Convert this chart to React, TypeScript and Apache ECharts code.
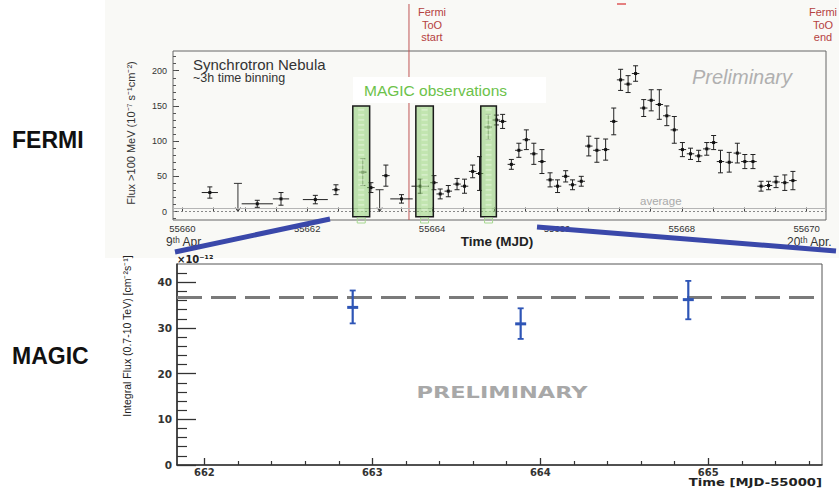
import React, { useEffect, useRef } from "react";
import * as echarts from "echarts";

// ---------- FERMI light curve (MJD, flux 1e-7 s^-1 cm^-2) ----------
const fermiMjd = [
  55660.44, 55661.2, 55661.58, 55662.13, 55662.46, 55662.89, 55663.02, 55663.26, 55663.51, 55663.81,
  55664.03, 55664.13, 55664.26, 55664.4, 55664.52, 55664.65, 55664.76, 55664.9, 55665.03, 55665.13,
  55665.27, 55665.39, 55665.51, 55665.63, 55665.76, 55665.89, 55666.01, 55666.14, 55666.25, 55666.39,
  55666.51, 55666.64, 55666.78, 55666.91, 55667.02, 55667.14, 55667.26, 55667.39, 55667.51, 55667.64,
  55667.76, 55667.88, 55668.01, 55668.14, 55668.27, 55668.4, 55668.51, 55668.62, 55668.76, 55668.89,
  55669.01, 55669.14, 55669.27, 55669.39, 55669.51, 55669.65, 55669.78,
];
const fermiFlux = [
  27, 11, 18, 17, 31, 56, 34, 51, 18, 36,
  41, 25, 29, 39, 36, 57, 54, 120, 130, 128,
  67, 87, 102, 82, 71, 45, 36, 50, 38, 43,
  93, 87, 88, 128, 187, 181, 196, 147, 158, 152,
  136, 116, 88, 82, 79, 89, 98, 71, 70, 83,
  71, 71, 36, 37, 42, 41, 44,
];
const fermiFluxErr = [
  8, 5, 9, 6, 7, 19, 7, 15, 6, 10,
  10, 7, 8, 8, 10, 9, 24, 18, 7, 10,
  7, 10, 14, 15, 17, 10, 9, 8, 7, 7,
  14, 17, 15, 19, 15, 12, 11, 12, 15, 21,
  14, 19, 10, 8, 8, 9, 10, 16, 14, 14,
  10, 10, 7, 6, 8, 11, 13,
];
const fermiMjdErr = [
  0.13, 0.25, 0.13, 0.2, 0.06, 0.06, 0.06, 0.06, 0.18, 0.14,
  0.06, 0.06, 0.06, 0.06, 0.06, 0.06, 0.06, 0.06, 0.06, 0.06,
  0.06, 0.06, 0.06, 0.06, 0.06, 0.06, 0.06, 0.06, 0.06, 0.06,
  0.06, 0.06, 0.06, 0.06, 0.06, 0.06, 0.06, 0.06, 0.06, 0.06,
  0.06, 0.06, 0.06, 0.06, 0.06, 0.06, 0.06, 0.06, 0.06, 0.06,
  0.06, 0.06, 0.06, 0.06, 0.06, 0.06, 0.06,
];
const fermiUlMjd = [55660.89, 55663.16];
const fermiUlFlux = [40, 31];
const fermiAverage = [5];
const fermiTooStart = [55663.63];
const magicWindowStart = [55662.73, 55663.74, 55664.78];
const magicWindowEnd = [55663.0, 55664.02, 55665.03];
const magicWindowFlux = [-7.5, 150];

const fermiXLabels = [55660, 55662, 55664, 55666, 55668, 55670];
const fermiXTicks = [
  55660, 55660.5, 55661, 55661.5, 55662, 55662.5, 55663, 55663.5, 55664, 55664.5, 55665,
  55665.5, 55666, 55666.5, 55667, 55667.5, 55668, 55668.5, 55669, 55669.5, 55670,
];
const fermiYLabels = [0, 50, 100, 150, 200];
const fermiYMinor = [-10, 0, 10, 20, 30, 40, 50, 60, 70, 80, 90, 100, 110, 120, 130, 140, 150, 160, 170, 180, 190, 200, 210, 220];

// ---------- MAGIC (MJD-55000, flux 1e-12 cm^-2 s^-1) ----------
const magicT = [662.883, 663.883, 664.881];
const magicFlux = [34.5, 30.9, 36.2];
const magicErrLow = [3.5, 3.3, 4.3];
const magicErrHigh = [3.7, 3.4, 4.1];
const magicAverage = [36.8];
const magicXLabels = [662, 663, 664, 665];
const magicXMinor = [
  662.2, 662.4, 662.6, 662.8, 663.2, 663.4, 663.6, 663.8, 664.2, 664.4, 664.6, 664.8,
  665.2, 665.4, 665.6,
];
const magicYLabels = [0, 10, 20, 30, 40];
const magicYMinor = [2, 4, 6, 8, 12, 14, 16, 18, 22, 24, 26, 28, 32, 34, 36, 38, 42];

const F = "'Liberation Sans', Arial, Helvetica, sans-serif";
const D = "'DejaVu Sans', 'Liberation Sans', sans-serif";

export default function App() {
  const ref = useRef<HTMLDivElement>(null);

  useEffect(() => {
    if (!ref.current) return;
    const chart = echarts.init(ref.current, null, { renderer: "svg" });

    const fermiData = fermiMjd.map((t, i) => [t, fermiFlux[i], fermiFluxErr[i], fermiMjdErr[i]]);
    const ulData = fermiUlMjd.map((t, i) => [t, fermiUlFlux[i]]);
    const windowData = magicWindowStart.map((s, i) => [s, magicWindowEnd[i]]);
    const magicData = magicT.map((t, i) => [t, magicFlux[i], magicErrLow[i], magicErrHigh[i]]);

    const option: any = {
      animation: false,
      backgroundColor: "#ffffff",
      grid: [
        { left: 173, top: 51, width: 653, height: 169, show: true, borderColor: "#666", borderWidth: 1, backgroundColor: "transparent" },
        { left: 177, top: 264, width: 645, height: 201, show: true, borderColor: "#555", borderWidth: 1, backgroundColor: "transparent" },
      ],
      xAxis: [
        {
          type: "value", gridIndex: 0, min: 55659.85, max: 55670.31, position: "bottom",
          axisLine: { show: false }, splitLine: { show: false },
          axisTick: { inside: true, length: 4, customValues: fermiXTicks, lineStyle: { color: "#444" } },
          axisLabel: { customValues: fermiXLabels, formatter: (v: number) => String(v), fontSize: 9.5, color: "#333", margin: 3, fontFamily: F },
        },
        {
          type: "value", gridIndex: 1, min: 661.837, max: 665.677, position: "bottom",
          axisLine: { show: true, lineStyle: { color: "#333", width: 1.6 } }, splitLine: { show: false },
          axisTick: { inside: true, length: 7, customValues: magicXLabels, lineStyle: { color: "#333", width: 1.3 } },
          axisLabel: { customValues: magicXLabels, formatter: (v: number) => String(v), fontSize: 10, fontWeight: "bold", fontFamily: D, color: "#333", margin: 2 },
        },
        {
          type: "value", gridIndex: 1, min: 661.837, max: 665.677, position: "bottom",
          axisLine: { show: false }, splitLine: { show: false },
          axisTick: { inside: true, length: 4, customValues: magicXMinor, lineStyle: { color: "#333", width: 1.2 } },
          axisLabel: { show: false },
        },
      ],
      yAxis: [
        {
          type: "value", gridIndex: 0, min: -12, max: 228, position: "left",
          axisLine: { show: false }, splitLine: { show: false },
          axisTick: { inside: true, length: 6, customValues: fermiYLabels, lineStyle: { color: "#444" } },
          axisLabel: { customValues: fermiYLabels, fontSize: 9, color: "#333", margin: 6, fontFamily: F },
        },
        {
          type: "value", gridIndex: 0, min: -12, max: 228, position: "left",
          axisLine: { show: false }, splitLine: { show: false },
          axisTick: { inside: true, length: 3, customValues: fermiYMinor, lineStyle: { color: "#555" } },
          axisLabel: { show: false },
        },
        {
          type: "value", gridIndex: 1, min: 0, max: 44, position: "left",
          axisLine: { show: true, lineStyle: { color: "#333", width: 1.6 } }, splitLine: { show: false },
          axisTick: { inside: true, length: 19, customValues: magicYLabels, lineStyle: { color: "#333", width: 1.3 } },
          axisLabel: { customValues: magicYLabels, fontSize: 10.5, fontWeight: "bold", fontFamily: D, color: "#333", margin: 5 },
        },
        {
          type: "value", gridIndex: 1, min: 0, max: 44, position: "left",
          axisLine: { show: false }, splitLine: { show: false },
          axisTick: { inside: true, length: 10, customValues: magicYMinor, lineStyle: { color: "#333", width: 1.2 } },
          axisLabel: { show: false },
        },
      ],
      series: [
        {
          name: "Fermi ToO",
          type: "custom",
          xAxisIndex: 0, yAxisIndex: 0,
          clip: false,
          silent: true,
          data: fermiTooStart.map((t) => [t, 0]),
          renderItem: (params: any, api: any) => {
            const x = api.coord([api.value(0), 0])[0];
            const cs = params.coordSys;
            return {
              type: "group",
              children: [
                { type: "line", shape: { x1: x, y1: 4, x2: x, y2: cs.y + cs.height }, style: { stroke: "#c05555", lineWidth: 1 } },
                {
                  type: "text",
                  style: { x: x + 23, y: 6, text: "Fermi\nToO\nstart", fill: "#b5423f", fontSize: 11, fontFamily: F, align: "center", verticalAlign: "top", lineHeight: 12.5 },
                },
              ],
            };
          },
        },
        {
          name: "Fermi LAT",
          type: "custom",
          xAxisIndex: 0, yAxisIndex: 0,
          data: fermiData,
          encode: { x: 0, y: 1 },
          renderItem: (params: any, api: any) => {
            const t = api.value(0), f = api.value(1), ef = api.value(2), et = api.value(3);
            const c = api.coord([t, f]);
            const lo = api.coord([t, f - ef]);
            const hi = api.coord([t, f + ef]);
            const l = api.coord([t - et, f]);
            const r = api.coord([t + et, f]);
            const st = { stroke: "#222", lineWidth: 1 };
            return {
              type: "group",
              children: [
                { type: "line", shape: { x1: c[0], y1: lo[1], x2: c[0], y2: hi[1] }, style: st },
                { type: "line", shape: { x1: c[0] - 2.5, y1: lo[1], x2: c[0] + 2.5, y2: lo[1] }, style: st },
                { type: "line", shape: { x1: c[0] - 2.5, y1: hi[1], x2: c[0] + 2.5, y2: hi[1] }, style: st },
                { type: "line", shape: { x1: l[0], y1: c[1], x2: r[0], y2: c[1] }, style: st },
                { type: "rect", shape: { x: c[0] - 1.5, y: c[1] - 1.5, width: 3, height: 3 }, style: { fill: "#111" } },
              ],
            };
          },
          markLine: {
            silent: true,
            symbol: "none",
            label: { show: false },
            data: [
              { yAxis: 0, lineStyle: { color: "#888", type: [2, 2], width: 1 } },
              { yAxis: fermiAverage[0], lineStyle: { color: "#b5b5b5", type: "solid", width: 1 } },
            ],
          },
        },
        {
          name: "Fermi UL",
          type: "custom",
          xAxisIndex: 0, yAxisIndex: 0,
          data: ulData,
          encode: { x: 0, y: 1 },
          renderItem: (params: any, api: any) => {
            const t = api.value(0), u = api.value(1);
            const top = api.coord([t, u]);
            const bot = api.coord([t, 0]);
            const st = { stroke: "#333", lineWidth: 1 };
            return {
              type: "group",
              children: [
                { type: "line", shape: { x1: top[0], y1: top[1], x2: top[0], y2: bot[1] }, style: st },
                { type: "line", shape: { x1: top[0] - 4, y1: top[1], x2: top[0] + 4, y2: top[1] }, style: st },
                { type: "polyline", shape: { points: [[top[0] - 2.5, bot[1] - 4], [top[0], bot[1]], [top[0] + 2.5, bot[1] - 4]] }, style: { stroke: "#333", lineWidth: 1, fill: "none" } },
              ],
            };
          },
        },
        {
          name: "MAGIC windows",
          type: "custom",
          xAxisIndex: 0, yAxisIndex: 0,
          clip: false,
          data: windowData,
          encode: { x: [0, 1] },
          z: 5,
          renderItem: (params: any, api: any) => {
            const a = api.coord([api.value(0), magicWindowFlux[1]]);
            const b = api.coord([api.value(1), magicWindowFlux[0]]);
            const w = b[0] - a[0];
            const h = b[1] - a[1];
            const cs = params.coordSys;
            const cx = a[0] + w / 2;
            const dashes: any[] = [];
            for (let yy = a[1] + 4; yy < b[1] - 2; yy += 5) {
              dashes.push({ type: "line", shape: { x1: cx - 3, y1: yy, x2: cx + 3, y2: yy }, style: { stroke: "rgba(255,255,255,0.55)", lineWidth: 1 } });
            }
            return {
              type: "group",
              children: [
                { type: "rect", shape: { x: a[0], y: a[1], width: w, height: h }, style: { fill: "rgba(130,200,100,0.5)" } },
                { type: "rect", shape: { x: a[0] + w * 0.3, y: a[1], width: w * 0.4, height: h }, style: { fill: "rgba(200,235,180,0.45)" } },
                ...dashes,
                { type: "rect", shape: { x: a[0], y: a[1], width: w, height: h }, style: { fill: "none", stroke: "#1a1a1a", lineWidth: 1.5 } },
                { type: "rect", shape: { x: cx - 4, y: cs.y + cs.height - 2, width: 8, height: 5 }, style: { fill: "none", stroke: "#a6d890", lineWidth: 1 } },
              ],
            };
          },
        },
        {
          name: "MAGIC",
          type: "custom",
          xAxisIndex: 1, yAxisIndex: 2,
          data: magicData,
          encode: { x: 0, y: 1 },
          renderItem: (params: any, api: any) => {
            const t = api.value(0), f = api.value(1), el = api.value(2), eh = api.value(3);
            const c = api.coord([t, f]);
            const lo = api.coord([t, f - el]);
            const hi = api.coord([t, f + eh]);
            const col = "#2e55b6";
            return {
              type: "group",
              children: [
                { type: "line", shape: { x1: c[0], y1: lo[1], x2: c[0], y2: hi[1] }, style: { stroke: col, lineWidth: 2.2 } },
                { type: "line", shape: { x1: c[0] - 3, y1: lo[1], x2: c[0] + 3, y2: lo[1] }, style: { stroke: col, lineWidth: 1.8 } },
                { type: "line", shape: { x1: c[0] - 3, y1: hi[1], x2: c[0] + 3, y2: hi[1] }, style: { stroke: col, lineWidth: 1.8 } },
                { type: "line", shape: { x1: c[0] - 5.5, y1: c[1], x2: c[0] + 5.5, y2: c[1] }, style: { stroke: col, lineWidth: 3 } },
              ],
            };
          },
          markLine: {
            silent: true,
            symbol: "none",
            label: { show: false },
            z: 1,
            data: [{ yAxis: magicAverage[0], lineStyle: { color: "#7a7a7a", type: [25, 9], width: 3 } }],
          },
        },
      ],
      graphic: [
        { type: "rect", z: -10, shape: { x: 105, y: 0, width: 734, height: 258 }, style: { fill: "#f9f9f6" } },
        { type: "text", x: 12, y: 140, style: { text: "FERMI", fill: "#111", fontSize: 23, fontWeight: "bold", fontFamily: F, verticalAlign: "middle" } },
        { type: "text", x: 12, y: 356, style: { text: "MAGIC", fill: "#111", fontSize: 23, fontWeight: "bold", fontFamily: F, verticalAlign: "middle" } },
        { type: "text", x: 131, y: 133, rotation: Math.PI / 2, style: { text: "Flux >100 MeV (10⁻⁷ s⁻¹cm⁻²)", fill: "#333", fontSize: 11, fontFamily: F, align: "center", verticalAlign: "middle" } },
        { type: "text", x: 193, y: 64, style: { text: "Synchrotron Nebula", fill: "#333", fontSize: 15, fontFamily: F, verticalAlign: "middle" } },
        { type: "text", x: 193, y: 78, style: { text: "~3h time binning", fill: "#333", fontSize: 12.5, fontFamily: F, verticalAlign: "middle" } },
        { type: "rect", z: 10, shape: { x: 353, y: 77, width: 193, height: 26 }, style: { fill: "#ffffff" } },
        { type: "text", z: 11, x: 364, y: 90, style: { text: "MAGIC observations", fill: "#6cc24a", fontSize: 15.5, fontFamily: F, verticalAlign: "middle" } },
        { type: "text", x: 692, y: 77, style: { text: "Preliminary", fill: "#b0b0b0", fontSize: 20, fontStyle: "italic", fontFamily: F, verticalAlign: "middle" } },
        { type: "text", x: 640, y: 201, style: { text: "average", fill: "#aaa", fontSize: 11.5, fontFamily: F, verticalAlign: "middle" } },
        { type: "text", x: 497, y: 241, style: { text: "Time (MJD)", fill: "#222", fontSize: 13.5, fontWeight: "bold", fontFamily: F, align: "center", verticalAlign: "middle" } },
        { type: "text", x: 166, y: 242, style: { text: "9ᵗʰ Apr.", fill: "#333", fontSize: 12, fontFamily: F, verticalAlign: "middle" } },
        { type: "text", x: 787, y: 242, style: { text: "20ᵗʰ Apr.", fill: "#333", fontSize: 12, fontFamily: F, verticalAlign: "middle" } },
        { type: "text", x: 823, y: 6, style: { text: "Fermi\nToO\nend", fill: "#b5423f", fontSize: 11, fontFamily: F, align: "center", verticalAlign: "top", lineHeight: 12.5 } },
        { type: "line", shape: { x1: 617, y1: 4, x2: 626, y2: 4 }, style: { stroke: "#e58080", lineWidth: 2 } },
        { type: "line", z: 20, shape: { x1: 175, y1: 252, x2: 330, y2: 219 }, style: { stroke: "#3a48aa", lineWidth: 5 } },
        { type: "line", z: 20, shape: { x1: 537, y1: 227, x2: 836, y2: 251 }, style: { stroke: "#3a48aa", lineWidth: 5 } },
        { type: "text", x: 177, y: 259, style: { text: "×10⁻¹²", fill: "#222", fontSize: 10, fontWeight: "bold", fontFamily: D, verticalAlign: "middle" } },
        { type: "text", x: 127, y: 336, rotation: Math.PI / 2, style: { text: "Integral Flux (0.7-10 TeV) [cm⁻²s⁻¹]", fill: "#222", fontSize: 10.5, fontFamily: "'Liberation Sans Narrow', 'Liberation Sans', sans-serif", align: "center", verticalAlign: "middle" } },
        { type: "text", x: 502, y: 393, scaleX: 1.45, style: { text: "PRELIMINARY", fill: "#a8a8a8", fontSize: 15.5, fontWeight: "bold", fontFamily: D, align: "center", verticalAlign: "middle" } },
        { type: "text", x: 822, y: 482.5, scaleX: 1.2, style: { text: "Time [MJD-55000]", fill: "#222", fontSize: 11, fontWeight: "bold", fontFamily: D, align: "right", verticalAlign: "middle" } },
      ],
    };

    chart.setOption(option);
    return () => chart.dispose();
  }, []);

  return <div ref={ref} style={{ position: "fixed", left: 0, top: 0, width: 839, height: 489 }} />;
}
